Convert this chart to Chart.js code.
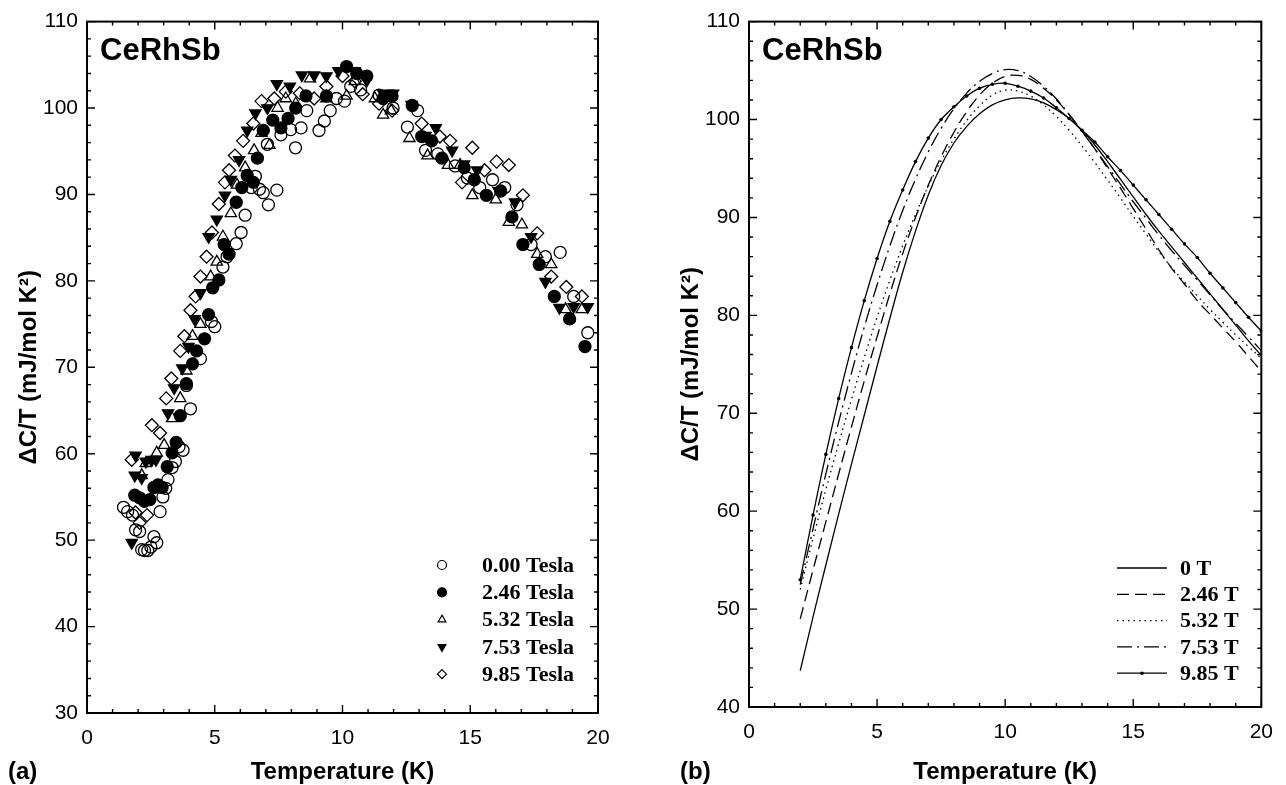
<!DOCTYPE html>
<html>
<head>
<meta charset="utf-8">
<script src="https://cdn.jsdelivr.net/npm/chart.js@4/dist/chart.umd.min.js"></script>
<style>
  html, body { margin: 0; padding: 0; background: #fff; }
  #wrap { position: relative; width: 1286px; height: 785px; }
  canvas { position: absolute; top: 0; }
  #panel-a { left: 0; }
  #panel-b { left: 643px; }
</style>
</head>
<body>
<div id="wrap">
  <canvas id="panel-a" width="643" height="785"></canvas>
  <canvas id="panel-b" width="643" height="785"></canvas>
</div>
<script>
// (a) measured ΔC/T points: [temperature K, mJ/mol K²]
const field000 = [
  [1.43, 53.8], [1.59, 53.3], [1.78, 52.9], [1.9, 51.2], [2.06, 51.0], [2.14, 48.9],
  [2.25, 48.8], [2.38, 48.8], [2.5, 49.2], [2.62, 50.4], [2.73, 49.7], [2.86, 53.3],
  [2.97, 55.0], [3.08, 56.0], [3.17, 57.0], [3.33, 58.4], [3.46, 59.1], [3.6, 60.8],
  [3.76, 60.4], [4.05, 65.2], [3.89, 67.9], [4.44, 71.0], [4.87, 75.3], [5.0, 74.7],
  [5.32, 81.6], [5.48, 82.8], [5.84, 84.3], [6.03, 85.6], [6.19, 87.6], [6.43, 90.8],
  [6.59, 92.1], [6.75, 90.6], [6.9, 90.2], [7.1, 88.8], [7.43, 90.5], [7.06, 95.8],
  [7.59, 96.9], [7.97, 97.5], [8.16, 95.4], [8.38, 97.7], [8.6, 99.7], [9.08, 97.4],
  [9.29, 98.5], [9.52, 99.7], [9.76, 101.1], [10.08, 100.8], [10.32, 102.5], [10.71, 102.1],
  [11.43, 101.5], [11.98, 100.0], [12.54, 97.8], [12.94, 99.7], [13.25, 95.1], [13.73, 94.7],
  [14.41, 93.3], [14.89, 91.9], [15.37, 90.8], [15.87, 91.7], [16.35, 90.8], [16.83, 88.8],
  [17.38, 84.2], [17.94, 82.8], [18.52, 83.3], [19.05, 78.2], [19.6, 74.0]
];
const field246 = [
  [1.87, 55.2], [2.06, 54.9], [2.25, 54.5], [2.46, 54.7], [2.62, 56.1], [2.78, 56.4],
  [2.94, 56.1], [3.14, 58.5], [3.33, 60.1], [3.49, 61.3], [3.65, 64.4], [3.89, 68.1],
  [4.13, 70.4], [4.29, 71.9], [4.6, 73.3], [4.76, 76.1], [4.92, 79.2], [5.16, 80.1],
  [5.37, 84.2], [5.56, 83.1], [5.84, 89.1], [6.06, 90.8], [6.27, 92.2], [6.51, 91.4],
  [6.67, 94.2], [6.9, 97.4], [7.27, 98.6], [7.59, 97.7], [7.87, 98.8], [8.17, 100.0],
  [8.57, 101.4], [9.37, 101.4], [10.16, 104.8], [10.56, 104.0], [10.95, 103.7], [11.59, 101.1],
  [11.94, 101.4], [12.73, 100.3], [13.1, 96.7], [13.49, 96.2], [13.89, 94.2], [14.76, 93.1],
  [15.16, 91.7], [15.63, 89.9], [16.19, 90.4], [16.63, 87.4], [17.06, 84.2], [17.7, 81.9],
  [18.29, 78.2], [18.89, 75.6], [19.49, 72.4]
];
const field532 = [
  [2.14, 57.5], [2.3, 58.9], [2.73, 60.1], [3.02, 61.0], [3.33, 64.1], [3.65, 66.4],
  [3.89, 69.6], [4.13, 73.6], [4.44, 75.0], [4.84, 80.5], [5.08, 82.2], [5.32, 85.1],
  [5.63, 87.8], [5.87, 91.1], [6.19, 93.1], [6.54, 95.1], [6.83, 97.1], [7.14, 95.7],
  [7.46, 100.0], [7.78, 101.1], [8.17, 100.5], [8.73, 103.4], [9.37, 101.1], [10.16, 101.4],
  [10.48, 103.1], [11.27, 101.1], [11.59, 99.2], [11.9, 99.7], [12.62, 96.5], [13.33, 94.5],
  [14.13, 93.4], [14.6, 93.4], [15.08, 89.9], [16.0, 89.4], [16.51, 86.8], [17.02, 86.5],
  [17.62, 83.1], [18.17, 81.9], [18.73, 76.7], [19.37, 76.7]
];
const field753 = [
  [1.75, 49.7], [1.9, 59.8], [1.87, 57.5], [2.14, 57.2], [2.3, 59.1], [2.54, 59.3],
  [2.7, 59.3], [3.17, 64.7], [3.41, 67.6], [3.73, 69.9], [3.97, 72.4], [4.21, 75.6],
  [4.44, 78.6], [4.76, 85.1], [5.08, 87.1], [5.4, 89.9], [5.63, 91.7], [5.95, 94.0],
  [6.27, 97.4], [6.59, 99.4], [7.06, 100.0], [7.43, 102.8], [7.94, 102.5], [8.41, 103.8],
  [8.89, 103.8], [9.37, 103.7], [9.84, 104.3], [10.48, 104.3], [10.95, 103.2], [11.59, 101.7],
  [11.98, 101.7], [12.7, 100.4], [13.25, 96.8], [13.65, 97.7], [14.29, 95.1], [14.76, 93.5],
  [15.27, 92.8], [16.11, 90.4], [16.75, 89.1], [17.38, 85.1], [17.94, 79.9], [18.49, 76.9],
  [19.05, 77.0], [19.6, 77.0]
];
const field985 = [
  [1.75, 59.3], [1.9, 53.2], [2.06, 52.0], [2.35, 52.9], [2.54, 63.3], [2.86, 62.4],
  [3.1, 66.4], [3.3, 68.7], [3.65, 71.9], [3.81, 73.6], [4.05, 76.6], [4.25, 78.2],
  [4.44, 80.5], [4.68, 82.8], [4.89, 85.6], [5.16, 88.9], [5.4, 91.4], [5.56, 92.8],
  [5.79, 94.5], [6.11, 96.2], [6.51, 98.2], [6.83, 100.8], [7.33, 101.1], [7.78, 101.9],
  [8.33, 101.7], [8.89, 101.1], [9.37, 102.5], [10.0, 103.7], [10.48, 103.1], [10.79, 101.6],
  [11.43, 100.5], [11.94, 99.7], [13.1, 98.2], [13.81, 96.7], [14.21, 96.2], [14.68, 91.4],
  [15.08, 95.4], [15.56, 92.8], [16.03, 93.8], [16.51, 93.4], [17.06, 89.9], [17.62, 85.5],
  [18.17, 80.5], [18.76, 79.3], [19.37, 78.2]
];
const scatterLabels = ["0.00 Tesla", "2.46 Tesla", "5.32 Tesla", "7.53 Tesla", "9.85 Tesla"];

// (b) fitted curves, same temperature grid for every field
const fitTemps = [2, 2.5, 3, 3.5, 4, 4.5, 5, 5.5, 6, 6.5, 7, 7.5, 8, 8.5, 9, 9.5, 10, 10.5, 11,
  11.5, 12, 12.5, 13, 13.5, 14, 14.5, 15, 15.5, 16, 16.5, 17, 17.5, 18, 18.5, 19, 19.5, 20];
const fit000 = [43.7, 49.2, 54.5, 59.7, 64.8, 69.8, 74.8, 79.7, 84.4, 88.6, 92.3, 95.3, 97.6,
  99.3, 100.6, 101.5, 102.0, 102.2, 102.1, 101.7, 101.0, 100.1, 98.9, 97.4, 95.7, 93.9, 92.1,
  90.3, 88.6, 87.0, 85.4, 83.8, 82.2, 80.6, 79.0, 77.4, 75.9];
const fit246 = [49.0, 54.0, 58.9, 63.8, 68.6, 73.3, 77.8, 82.2, 86.3, 90.0, 93.3, 96.2, 98.7,
  100.8, 102.5, 103.7, 104.4, 104.5, 104.1, 103.2, 102.0, 100.5, 98.8, 97.0, 95.0, 93.0, 90.9,
  88.8, 86.7, 84.8, 83.2, 81.5, 80.1, 78.7, 77.3, 75.8, 74.3];
const fit532 = [52.0, 57.2, 62.2, 66.9, 71.4, 75.7, 79.8, 83.6, 87.1, 90.3, 93.2, 95.8, 98.0,
  99.9, 101.4, 102.5, 103.0, 102.9, 102.4, 101.5, 100.3, 98.9, 97.3, 95.6, 93.8, 92.0, 90.1,
  88.3, 86.5, 84.9, 83.4, 82.0, 80.6, 79.3, 78.0, 76.8, 75.6];
const fit753 = [52.5, 58.2, 63.8, 69.1, 74.1, 78.8, 83.1, 87.1, 90.7, 93.9, 96.7, 99.1, 101.1,
  102.7, 103.9, 104.7, 105.1, 105.0, 104.4, 103.4, 102.1, 100.5, 98.8, 97.0, 95.2, 93.4, 91.6,
  89.9, 88.2, 86.6, 85.1, 83.6, 82.1, 80.6, 79.2, 77.8, 76.4];
const fit985 = [53.0, 59.6, 65.8, 71.5, 76.7, 81.5, 85.8, 89.6, 92.8, 95.7, 98.1, 100.0, 101.3,
  102.4, 103.2, 103.6, 103.7, 103.4, 102.9, 102.2, 101.2, 100.1, 98.9, 97.7, 96.2, 94.8, 93.3,
  91.8, 90.3, 88.8, 87.3, 85.9, 84.3, 82.8, 81.3, 79.8, 78.4];
const fitLabels = ["0 T", "2.46 T", "5.32 T", "7.53 T", "9.85 T"];

const SANS = "'Liberation Sans', Arial, sans-serif";
const SERIF = "'Liberation Serif', 'Times New Roman', serif";
Chart.defaults.color = "#000";
Chart.defaults.font.family = SANS;

// inward ticks on all four sides, frame, compound name, panel tag and inset legend
const panelDecor = {
  id: "panelDecor",
  afterDatasetsDraw(chart, args, o) {
    const { ctx, chartArea: a, scales: { x, y } } = chart;
    ctx.save();
    ctx.strokeStyle = "#000";
    ctx.lineWidth = 1.4;
    ctx.setLineDash([]);
    ctx.beginPath();
    for (let v = x.min; v <= x.max; v += 1) {
      const px = x.getPixelForValue(v);
      const len = v % 5 === 0 ? 8 : 4;
      ctx.moveTo(px, a.bottom); ctx.lineTo(px, a.bottom - len);
      ctx.moveTo(px, a.top); ctx.lineTo(px, a.top + len);
    }
    for (let v = y.min; v <= y.max; v += 2) {
      const py = y.getPixelForValue(v);
      const len = v % 10 === 0 ? 8 : 4;
      ctx.moveTo(a.left, py); ctx.lineTo(a.left + len, py);
      ctx.moveTo(a.right, py); ctx.lineTo(a.right - len, py);
    }
    ctx.stroke();
    ctx.lineWidth = 2;
    ctx.strokeRect(a.left, a.top, a.right - a.left, a.bottom - a.top);

    ctx.fillStyle = "#000";
    ctx.textAlign = "left";
    ctx.textBaseline = "alphabetic";
    ctx.font = "bold 31px " + SANS;
    ctx.fillText("CeRhSb", a.left + 13, a.top + 38);
    ctx.textBaseline = "middle";
    ctx.font = "bold 24px " + SANS;
    ctx.fillText(o.tag, o.tagX, o.tagY);

    const lg = o.legend;
    ctx.font = "bold 22px " + SERIF;
    chart.data.datasets.forEach((ds, i) => {
      const ry = lg.y0 + i * lg.dy;
      ctx.fillStyle = "#000";
      ctx.fillText(ds.label, lg.textX, ry + 1);
      ctx.strokeStyle = "#000";
      if (lg.kind === "marker") {
        ctx.fillStyle = ds.backgroundColor;
        ctx.lineWidth = 1.2;
        Chart.helpers.drawPoint(ctx, {
          pointStyle: ds.pointStyle, radius: 4.5, rotation: ds.rotation || 0, borderWidth: 1.2
        }, lg.x, ry);
      } else {
        ctx.lineWidth = ds.borderWidth;
        ctx.setLineDash(ds.borderDash || []);
        ctx.beginPath();
        ctx.moveTo(lg.x, ry); ctx.lineTo(lg.x2, ry);
        ctx.stroke();
        ctx.setLineDash([]);
        if (ds.pointRadius > 0) {
          ctx.fillStyle = "#000";
          ctx.beginPath();
          ctx.arc((lg.x + lg.x2) / 2, ry, ds.pointRadius, 0, Math.PI * 2);
          ctx.fill();
        }
      }
    });
    ctx.restore();
  }
};

function axes(yMin, yMax, yWidth, xHeight) {
  const tickFont = { family: SANS, size: 21 };
  const titleFont = { family: SANS, size: 24, weight: "bold", lineHeight: 1 };
  return {
    x: {
      type: "linear", min: 0, max: 20,
      afterFit: (s) => { s.height = xHeight; },
      grid: { display: false, drawTicks: false },
      border: { display: false },
      ticks: { stepSize: 5, autoSkip: false, maxRotation: 0, padding: 13, font: tickFont },
      title: { display: true, text: "Temperature (K)", font: titleFont, padding: 0 }
    },
    y: {
      type: "linear", min: yMin, max: yMax,
      afterFit: (s) => { s.width = yWidth; },
      grid: { display: false, drawTicks: false },
      border: { display: false },
      ticks: { stepSize: 10, autoSkip: false, padding: 9, font: tickFont },
      title: { display: true, text: "\u0394C/T (mJ/mol K\u00B2)", font: titleFont, padding: { top: 4, bottom: 4 } }
    }
  };
}

const toPoints = (pairs) => pairs.map(([t, c]) => ({ x: t, y: c }));
const markerStyles = [
  { pointStyle: "circle", backgroundColor: "rgba(255,255,255,0)", radius: 6 },
  { pointStyle: "circle", backgroundColor: "#000", radius: 6 },
  { pointStyle: "triangle", backgroundColor: "rgba(255,255,255,0)", radius: 6.5 },
  { pointStyle: "triangle", backgroundColor: "#000", radius: 6.5, rotation: 180 },
  { pointStyle: "rectRot", backgroundColor: "rgba(255,255,255,0)", radius: 6.5 }
];
const fields = [field000, field246, field532, field753, field985];

new Chart(document.getElementById("panel-a"), {
  type: "scatter",
  data: {
    datasets: fields.map((f, i) => ({
      label: scatterLabels[i],
      data: toPoints(f),
      pointStyle: markerStyles[i].pointStyle,
      rotation: markerStyles[i].rotation || 0,
      pointRadius: markerStyles[i].radius,
      backgroundColor: markerStyles[i].backgroundColor,
      borderColor: "#000",
      borderWidth: 1.3
    }))
  },
  options: {
    responsive: false,
    animation: false,
    events: [],
    layout: { padding: { left: 13, top: 18, right: 45, bottom: 1 }, autoPadding: false },
    plugins: {
      legend: { display: false },
      tooltip: { enabled: false },
      panelDecor: {
        tag: "(a)", tagX: 8, tagY: 772,
        legend: { kind: "marker", x: 442, textX: 482, y0: 565, dy: 27.3 }
      }
    },
    scales: axes(30, 110, 74, 71)
  },
  plugins: [panelDecor]
});

const fitSeries = [fit000, fit246, fit532, fit753, fit985];
const fitDashes = [[], [12, 6], [1.5, 4], [15, 5, 2, 5], []];

new Chart(document.getElementById("panel-b"), {
  type: "line",
  data: {
    datasets: fitSeries.map((vals, i) => ({
      label: fitLabels[i],
      data: fitTemps.map((t, k) => ({ x: t, y: vals[k] })),
      borderColor: "#000",
      backgroundColor: "#000",
      borderWidth: 1.3,
      borderDash: fitDashes[i],
      tension: 0.4,
      pointRadius: i === 4 ? 1.8 : 0,
      pointBorderWidth: 0,
      fill: false
    }))
  },
  options: {
    responsive: false,
    animation: false,
    events: [],
    layout: { padding: { left: 32, top: 17, right: 23, bottom: 1 }, autoPadding: false },
    plugins: {
      legend: { display: false },
      tooltip: { enabled: false },
      panelDecor: {
        tag: "(b)", tagX: 37, tagY: 772,
        legend: { kind: "line", x: 474, x2: 524, textX: 537, y0: 568, dy: 26.3 }
      }
    },
    scales: axes(40, 110, 74, 77)
  },
  plugins: [panelDecor]
});
</script>
</body>
</html>
